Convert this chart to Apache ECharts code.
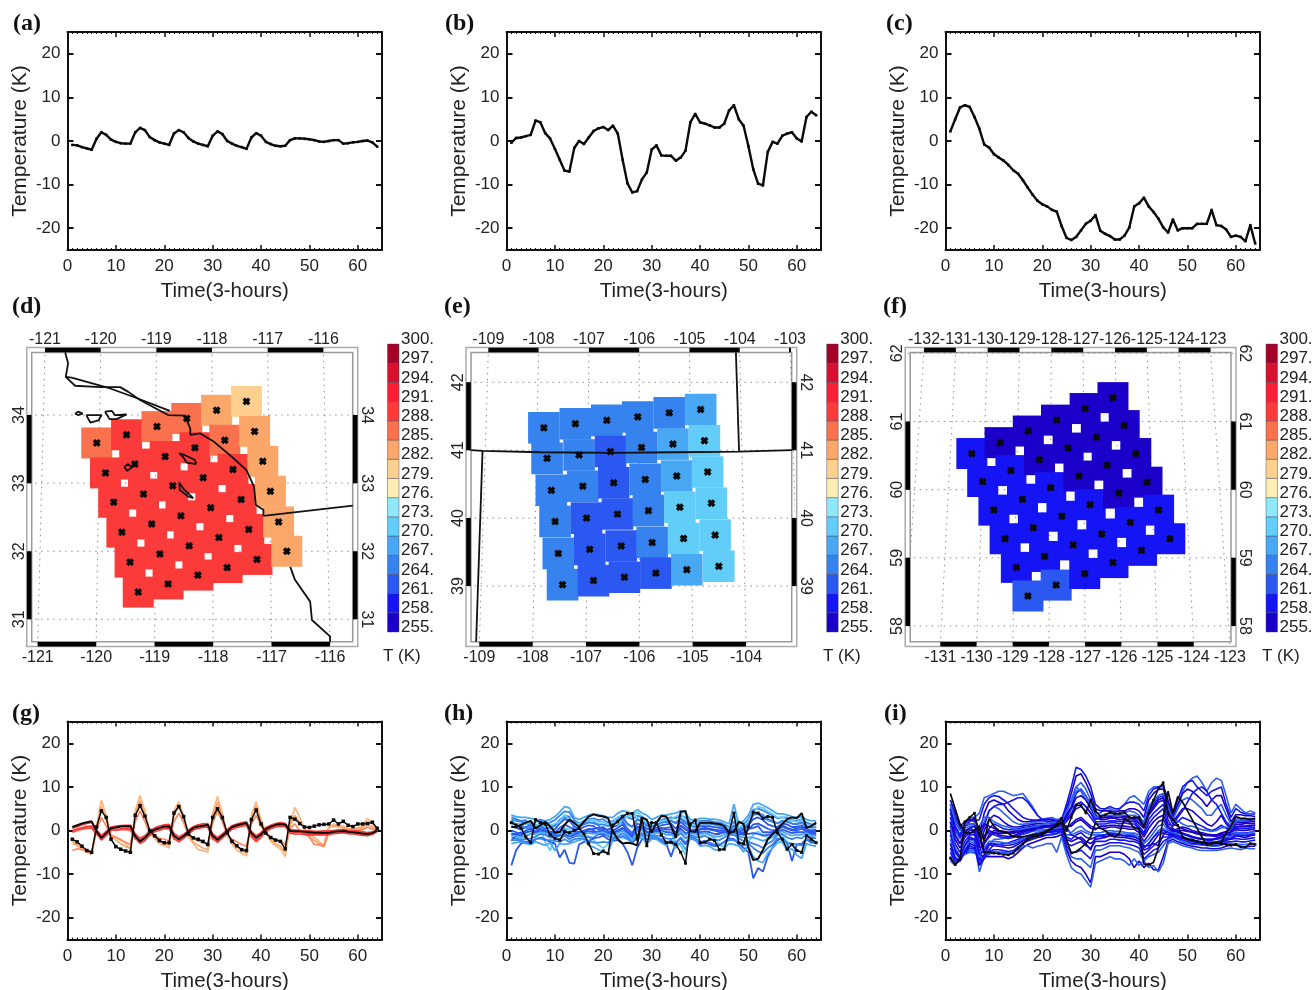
<!DOCTYPE html>
<html><head><meta charset="utf-8">
<script src="https://cdn.jsdelivr.net/npm/echarts@6/dist/echarts.min.js"></script>
<style>html,body{margin:0;padding:0;background:#fff}#c{width:1312px;height:990px}</style>
</head><body><div id="c"></div>
<script>
const lineA=[-0.9,-1,-1.4,-1.7,-2,0.5,2,1.4,0.3,-0.2,-0.5,-0.6,-0.6,2,3,2.5,0.9,0.2,-0.3,-0.6,-0.9,1.7,2.5,2,0.7,-0.1,-0.6,-0.9,-1.2,1.2,2.2,1.6,0,-0.6,-1.1,-1.4,-1.8,0.8,1.8,1.2,-0.2,-0.7,-1.1,-1.2,-1.1,0.2,0.6,0.6,0.5,0.4,0.2,-0.1,-0.2,0,0.2,0.2,-0.6,-0.5,-0.3,-0.2,0,0.1,-0.3,-1.3];
const lineB=[-0.4,0.7,0.8,1.1,1.4,4.7,4.3,1.8,0.6,-1.8,-4.3,-6.8,-7,-1.6,0,-0.7,0.8,2.3,2.9,3.2,2.5,3.5,1.7,-4.3,-9.7,-11.8,-11.5,-8.8,-7.2,-2,-1,-3.3,-3.4,-3.4,-4.5,-3.8,-2.2,4.3,6.2,4.3,4,3.6,3.1,3.1,4,7,8.2,5,3.5,-1.2,-6.5,-9.8,-10.2,-2.5,-0.2,-0.6,1.2,1.7,2,0.6,-0.1,5.5,6.7,5.9];
const lineC=[2.2,5,7.7,8.2,7.8,5.5,2.8,-0.8,-1.5,-3,-3.8,-4.5,-5.5,-6.7,-7.5,-9,-10.7,-12.3,-13.7,-14.5,-15,-15.8,-16.2,-19.5,-22.2,-22.7,-22,-20.5,-19,-18.3,-17,-20.6,-21.3,-21.8,-22.6,-22.6,-21.7,-19.8,-15,-14.3,-13,-15,-16.3,-17.8,-19.8,-21,-18,-20.5,-20,-20,-20,-19,-19,-19,-15.8,-19.3,-19.5,-20.3,-22,-21.7,-22,-23,-19.3,-23.5];

const gBlackA=[-2,-2.6,-3.6,-4.6,-5,0.8,4.5,3,-2,-3.7,-4.3,-4.7,-5,3.5,5.7,3.3,0,-1.2,-2.3,-2.8,-2.8,4,5.5,3.2,-0.8,-1.7,-2,-2.5,-3.2,3,5,3,-0.5,-2.5,-3.5,-4.4,-4.6,2.5,4.7,1.5,-0.6,-1.6,-2.2,-2.5,-4.2,3,2.6,1.6,0.8,0.7,1,1.3,1.4,1.5,2.4,1.5,2.1,1.2,0.9,1.5,1.5,1.6,1.9,0.5];
const gBlackB=[0.8,1.2,1.6,1.9,2.1,-0.2,-1.7,-0.6,0.5,0.7,0.9,1,1,-1.3,-2.5,-1.7,-0.5,0.2,0.6,0.9,1,-1.2,-2,-1.3,-0.3,0.6,0.9,1.1,1.3,-1.2,-2.1,-1.2,-0.2,0.8,1.2,1.5,1.7,-0.6,-1.7,-0.9,0.3,0.9,1.3,1.5,1.4,-0.1,-0.2,-0.2,-0.3,-0.4,-0.5,-0.5,-0.5,-0.5,-0.3,-0.2,-0.1,-0.3,-0.4,-0.5,-0.7,-0.8,-0.6,0];
const gOrange1=[-3,-3.5,-4.2,-5,-5.5,1,7,3.5,-1,-1.5,-2,-3,-4.5,4.5,8,4.5,-0.5,-1.8,-3,-3.5,-4,4.5,6.6,3.5,-1.5,-3,-4.4,-4.6,-5,4,7.8,4,-1,-3.2,-4.5,-5.2,-5.8,3.5,6.6,2.5,-0.5,-2.5,-3.5,-4.2,-6,1.5,5.3,3,0.5,-1,-1.6,-2.5,-3.5,0.5,1.5,1,1,0.5,0.3,0.6,1,2.8,1.5,0];
const gOrange2=[-2.5,-3.2,-3.9,-4.4,-5,0.5,5.5,2.5,-1.3,-2.2,-3,-3.7,-4,3.5,6.8,3.8,-0.3,-1.5,-2.6,-3,-3.4,3.5,5.7,2.6,-1.2,-2.6,-3.4,-4,-4.4,3,6.5,3.2,-0.8,-2.8,-3.8,-4.6,-5.2,2.8,5.6,2,-0.6,-2,-3,-3.6,-5,1,3.5,1.8,0.2,-1.5,-2.3,-3,-3.2,0.8,1,0.8,0.6,0.3,0.2,0.4,0.6,1.5,0.8,-0.1];
const gOrange3=[-4.6,-4.2,-4.4,-4.8,-5.2,0,3,1,-1.2,-1.6,-2.2,-2.7,-3.2,2,4.5,2,-0.8,-1,-1.8,-2,-2.4,2,4,1.8,-1,-1.8,-2.4,-2.8,-3.3,1.8,4.5,2,-1,-2,-2.6,-3.2,-3.6,1.5,3.5,1,-0.8,-1.6,-2,-2.4,-3.2,0.5,1.5,0,-0.8,-1.5,-3.2,-3.3,-3.7,-0.5,-0.3,0.2,0.2,0,-0.2,0,0.2,0.8,0.3,-0.2];
const gRed1=[0.5,0.9,1.3,1.6,1.8,0.2,-1.2,-0.2,0.8,1,1.1,1.2,1.2,-0.8,-1.8,-1.2,-0.1,0.6,1,1.3,1.4,-0.7,-1.5,-0.9,0.1,0.9,1.3,1.5,1.6,-0.8,-1.6,-0.8,0.2,1.1,1.5,1.8,2,-0.2,-1.2,-0.5,0.7,1.2,1.6,1.8,1.6,0.2,0.1,0,-0.1,-0.1,-0.2,-0.2,-0.1,-0.1,0,0.1,0.2,0,0,-0.1,-0.3,-0.5,-0.3,0];
const gRed2=[0,0.3,0.6,0.9,1,-0.6,-2.2,-1.2,0,0.2,0.4,0.5,0.5,-1.6,-3,-2.3,-1,-0.3,0.1,0.4,0.5,-1.7,-2.6,-1.8,-0.8,0.1,0.5,0.7,0.8,-1.7,-2.7,-1.7,-0.7,0.3,0.7,1,1.2,-1.1,-2.3,-1.4,-0.2,0.4,0.8,1,0.9,-0.6,-0.8,-0.8,-0.9,-1,-1,-1,-1,-0.9,-0.7,-0.6,-0.5,-0.7,-0.8,-0.9,-1.1,-1.2,-0.9,-0.2];
const gRed3=[-0.4,0,0.3,0.5,0.6,-0.9,-1.7,-0.8,0.2,0,0.2,0.2,0.1,-2,-2.2,-1.4,-1.2,0,0.4,0.7,0.8,-2,-2.3,-1.4,-0.5,0.4,0.8,1,1,-2,-2.3,-1.3,-0.4,0.5,1,1.2,1.4,-1.4,-2.6,-1.6,0,0.6,1,1.2,1.2,-0.3,-0.4,-0.4,-0.6,-0.6,-0.7,-0.6,-0.6,-0.6,-0.4,-0.3,-0.2,-0.4,-0.5,-0.6,-0.8,-0.9,-0.6,-0.1];

const hBlackA=[1.8,1.2,0.6,-1.5,-2.8,2.5,1.8,1.5,-1,-1.8,-2.2,-0.3,-0.5,0,0.5,-0.8,-3,-5.3,-5.4,-4.7,-5.3,1.2,2,3.2,3.9,3.9,-2,2.8,-3.5,1.8,1.8,-1,-2.8,-2.7,-3.2,-5,-7.5,1.5,2.4,-2.8,-2.7,-2,-2.3,-4.4,-4.3,-0.5,4,-2.8,-3,0.8,4.2,4,2.8,3.2,3,-0.5,-2,-4.3,-3.2,-4.6,-5,-1.2,-2,-2.8];
const hBlackB=[0.8,0.8,1.3,1.8,2.2,0.5,1.2,2,1,-0.5,-0.3,1.3,2.5,1.8,0.8,2,3.2,3.7,3.4,3.2,2.8,-0.2,-2,-3,-2.8,-3,-3.4,3,2.5,-0.5,1.8,3.3,3.2,1.2,-1.7,4.3,4.5,-0.2,-0.3,1.8,1.8,1.8,1.6,1.5,1,-0.5,-0.3,2,1.5,-4,-6.8,-6.5,-4.5,-2,-0.8,0.2,1.5,2.6,3,2.8,4,0.6,1,1.8];
const h1=[3.5,3.2,3,3,2.8,2.5,2.5,2.2,2.5,3.2,4.2,5.5,5.2,3,2.5,3,3.5,3.8,3.6,3.4,3,3,4,4.5,4.3,3.8,4.8,4,3.5,2.5,3,3.5,3.5,3.8,4,4.5,4,2.5,2.2,2.8,2.8,2.6,2.6,2.4,2,1.5,6,1.5,2.2,3.5,6,6.3,5.8,5.2,4.5,3.8,3.8,3.6,3.2,3,3.2,2.5,2.2,2.2];
const h2=[2.5,2.2,2,1.8,1.5,2,2.4,1.5,1.8,2.4,3.4,4.4,4.2,2.4,1.6,2.2,2.6,2.8,2.4,2.6,1.8,2.2,3,3.4,3,2.6,3.4,3,2,1.6,2,2.4,2.8,3,2.8,3.4,3,1.8,1.6,2.2,2.2,2.2,2,1.8,1.4,0.8,2,0.6,1.4,2.6,4.8,5,4.6,4,3.4,2.8,3,3,2.4,2.2,2.6,1.8,1.4,1.4];
const h3=[1,0.6,0.2,0.8,1.2,0.4,1,0.4,0.6,0.2,1.6,2.6,2.2,1,0.2,0.8,1.2,1,0.2,0.4,0.2,0.8,1.2,2,0.4,-0.6,1.6,1.2,0.4,0.2,0.6,1.2,1.4,1.6,0.4,2,1,0.2,0.2,1,1,1,0.8,0.6,0.4,-0.2,0.6,-0.4,0.2,1.2,2.6,3,2.4,1.4,1,0.8,1.6,1.4,0.8,0.8,1.2,0.4,0,0.2];
const h4=[-0.5,-1,-1.4,-0.6,0,-0.8,0.2,-2.6,-4.6,-2,-0.6,0.6,0.2,-0.4,-1,-0.8,-1.4,-2.2,-3.4,-4,-3.2,-0.6,0.6,2.8,3.2,4,3,1.4,-1,-1.4,-0.4,0.2,-0.4,-0.6,-2.6,-3.4,-5.6,0.4,-0.8,-1.4,-0.6,-1,-1.8,-3.4,-3.6,-1.4,0.8,-3.4,-5,-2.6,-1,-0.2,-1,-1.6,-1,-0.4,-1.2,-2.6,-3.2,-4.4,-5.2,-1.8,-2.4,-3];
const h5=[-1.6,-1.8,-2.2,-2,-1.8,-1.4,-0.8,-1,-1.6,-1.6,-2,-1.2,-2,-1.4,-1.2,-1.4,-1.6,-1.6,-0.8,-0.4,-1.4,-1.6,-1.2,-0.6,-1.4,-3,-1,-0.6,-1.2,-1.2,-1.2,-1.2,-1.8,-2,-1.6,-0.6,-1.8,-1,-1.4,-1.6,-1.2,-1.8,-2.2,-2.2,-1.6,-1,-1,-1.8,-2.4,-2.6,-3,-3.4,-4,-3,-2.4,-1,-0.8,-1.6,-2,-1.6,-1.8,-1,-1.6,-1.8];
const h6=[-8,-4.5,-3,-2.6,-3,-2,-1.6,-2,-2.6,-3,-6.2,-4.4,-7.4,-7.6,-3.2,-2.6,-2.4,-1.8,-1.6,-1.2,-2,-2.4,-2.2,-3,-5,-8,-4,-2,-2,-2,-1.8,-2.4,-3,-6,-2.8,-1.8,-3.2,-1.8,-2.2,-3.2,-2.6,-3.2,-3.6,-3.4,-2.6,-1.8,-2,-3,-4,-5,-11,-8.6,-9.4,-6,-3.8,-2.2,-1.8,-3,-7,-3.2,-3,-2,-2.8,-2.8];
const h7=[-3,-2.8,-2.6,-3,-3.2,-2.6,-3,-3.4,-2.8,-4.6,-3,-3.2,-3,-2.6,-2.2,-2,-3.4,-3.8,-4.4,-5,-5.2,-2,-1.6,-1.6,-2,-2.6,-2,-1.6,-3,-2,-2,-2.8,-3.4,-2.6,-4,-2.6,-4.4,-1.8,-2,-3.6,-3.4,-3.6,-4.4,-4.6,-4,-3,-3.2,-3.6,-4.8,-3.6,-6,-7,-7.4,-5.2,-4,-2.8,-2.6,-4.6,-4.2,-5.6,-6.4,-3,-3.4,-3.6];
const h8=[3,2.6,2.2,2.4,0.4,-0.6,1.2,0.8,0.4,1.2,2.4,3.4,3.2,0.4,0.8,1.6,2,1.6,1.2,-0.6,-1.2,1.2,2.6,3.2,1.6,0.8,2.4,2.2,1,0.8,1.2,1.8,2,2.2,1.8,2.8,2,1,0.8,1.6,1.6,1.6,1.4,1.2,0.8,0.2,1.2,0.2,0.8,1.8,3.6,4,3.6,2.6,2.2,1.6,2.2,2.2,1.6,1.4,2,1,0.6,0.8];
const h9=[-2.4,-1,-0.4,-1.2,-0.8,-0.2,-0.2,0,-0.4,-0.6,-0.4,0.2,-0.8,-0.6,-0.6,-0.4,-0.2,-0.4,-0.2,0,-0.6,-0.6,-0.2,0.2,-0.6,-1.4,0,0.2,-0.4,-0.4,-0.2,0,-0.4,-0.4,-1.2,0.4,-0.6,-0.4,-0.4,-0.4,-0.2,-0.4,-0.8,-0.8,-0.4,-0.4,-0.2,-0.8,-1,-0.8,-0.6,-0.8,-1.2,-1,-0.8,-0.2,0.2,-0.2,-0.6,-0.4,-0.4,-0.4,-0.8,-0.8];
const h10=[2,1.5,1.2,0.6,0.4,1,1.8,1,1.2,1,2.4,3,2.8,1.6,0.8,1.4,1.8,1.8,1.4,1.4,1,1.6,2.2,2.6,1.4,0.8,2.6,2.2,1.2,1,1.4,1.8,2,2.2,1.6,2.6,1.6,1,1,1.6,1.6,1.6,1.4,1,0.8,0.2,1,0,0.8,1.6,3.6,3.8,3,2.4,2,1.6,2.2,2,1.6,1.4,1.8,1,0.8,0.8];
const h11=[0,-0.4,-0.8,0,0.4,-0.4,0.4,-0.4,-0.2,-0.6,0.6,1.4,0.8,0.2,-0.4,0,0.4,0,-0.8,-1,-0.8,0,0.6,1.4,-0.4,-1.6,0.6,0.6,-0.2,-0.4,0,0.4,0.6,0.8,-0.4,1,0.2,-0.4,-0.4,0.2,0.4,0.2,0,-0.4,-0.4,-0.8,-0.4,-1,-0.6,0.2,1.4,1.6,1,0.4,0,0.2,0.8,0.4,0,0,0.4,-0.2,-0.6,-0.4];
const h12=[-1,-1.4,-1.8,-1.2,-0.8,-0.8,-0.4,-0.6,-1,-1,-0.8,-0.2,-1,-0.8,-0.8,-0.6,-0.6,-0.8,-0.6,-0.4,-1,-1,-0.6,0,-1,-2.2,0,0,-0.8,-0.8,-0.6,-0.4,-1,-1,-1,-0.2,-1,-0.6,-0.8,-0.8,-0.6,-1,-1.4,-1.4,-1,-0.6,-0.6,-1.4,-1.6,-1.6,-1.6,-2,-2.4,-2,-1.6,-0.6,-0.2,-0.8,-1.2,-1,-1,-0.6,-1.2,-1.2];
const h13=[-2.2,-2.2,-2.4,-2.6,-2.4,-2,-1.8,-2.2,-2.2,-2.4,-2.6,-2,-2.6,-2,-1.8,-1.8,-2.4,-2.8,-2.8,-2.6,-2.8,-2,-1.6,-1.2,-1.8,-2.8,-1.6,-1,-2,-1.6,-1.6,-2,-2.6,-2.4,-2.8,-1.6,-2.8,-1.4,-1.8,-2.6,-2.4,-2.8,-3.2,-3.2,-2.8,-2.2,-2.2,-2.8,-3.4,-3,-4,-4.8,-5.2,-4,-3.2,-1.8,-1.8,-3,-3,-3.2,-3.4,-2,-2.4,-2.6];
const h14=[1.6,1.2,1.6,1.4,2,1.2,1.6,0.8,1,1.6,2,3.6,2.6,2,1.4,2,2.4,2.2,2,2,1.4,2,3,3.6,3.6,3.2,4.2,3.2,1.6,1.2,1.6,2.2,2.4,2.6,3.2,3.8,2.6,1.4,1.2,2,2,1.8,1.6,1.4,1,0.4,4,0.8,1,2.2,4.2,5.4,5.2,4.4,3.8,3,3,2.6,2.2,2,2.4,1.4,1,1];
const h15=[-0.8,-0.8,-1.2,-0.4,-0.2,-0.2,0.4,0,-0.6,-1.2,-1.2,-0.8,-1.4,-1,-0.4,-0.2,0.2,0.4,0.6,0.8,-0.2,-0.4,0,0.6,-0.2,-1,0.8,0.8,-0.4,-0.2,0.2,0.6,0.2,0.2,-0.6,1.2,0.4,0,0,0.4,0.6,0.4,0.2,0,0,-0.2,0.2,-0.6,-0.4,0.4,0.6,1,-0.4,-0.4,-0.4,0.4,1.2,0.6,0.2,0.4,0.8,0,-0.2,-0.2];

const iBlackA=[-6.3,-7.8,-6.5,2,3,4,-1,-5,-5,-5.2,-5.3,-5.5,-5.6,-5.2,-4,-3,-2,-1.5,-1.3,-1,-0.3,0.5,1.5,2.8,0,3,5.8,5.8,4,7,4.5,3.2,3.5,4.2,3.8,3.9,4.2,3,3,3,1,4,7,9.5,11,4,2.5,1.2,-1.5,-2,-2.2,-2.5,-2.8,-3,-3,-2.8,-3,-3.2,-3.4,-3.2,-3.8,-3.8,-3,-3.2];
const iBlackB=[8.5,5,1.5,-0.5,-0.7,0,1,-2.5,2.7,1,0,-0.3,-0.7,-1.3,-1.5,-1.4,-1.2,-1,-0.8,-0.5,0,0.5,1,2,-2,-5.3,-4.8,-4,-3,-1.5,1.8,0.5,0,-1,-1.5,-0.5,2.8,2,0.5,0.5,-7.7,-7.9,-7.3,-4,3,9,4,7.8,6.5,4.5,2.5,0.5,-1.5,-3.5,-2.8,-2.8,-2.8,-0.5,1,3.2,2.8,2.8,2.5,2.8];
const i1=[5,2,0,2,3,3,4,7.5,8,8.5,9,9,8.5,8,8.2,8.5,7,5.5,3.5,2.5,2.8,3,2.5,2.8,5,7,10,9,7,5.5,4,4,5,5,4.5,5,6,7.5,8,7,6,9,10,10,10,6,3,5,9,11,12,12.5,11,9,11,12,11.5,8,4,6,5,4,4.5,4];
const i2=[4,1,-1,1.5,2.5,2,2.5,6,7.5,8,7.8,7,6.2,5,4,3,2.6,2.4,2.4,2.6,2.6,2.6,2.2,2.4,6,10,14.5,14,12.5,10,6,5,5,5.5,5,5,6,6.5,6.5,6,4.5,8,9.5,10,10.5,7,3.5,7,10,11,11.5,10,9,8,9,9.5,10,6,3,5,4.2,3.8,3.8,3.8];
const i3=[6,3,0.5,1,2,3,-1,4,6.5,7,6.5,6,4.5,3.5,2.5,2,2,2.2,2.2,2.4,2.4,2.4,2,2.2,5,8.5,12.5,13,11,8.5,5,4.5,4.5,4.5,4.2,4.5,4.5,5,5,4.5,3,7,8.5,9.5,9.5,6.5,3,6,8.5,9.5,9,8,7,5.5,7,8,8,5,2,3.6,3.6,3.4,3.4,3.2];
const i4=[3,0,-2,0.5,1,1,-2,2,4.5,5.5,5,4,3,2,1.5,1.4,1.6,1.8,2,2,2,2,1.8,1.8,4,7,10,11,9.5,7,4,3.5,3.5,3.5,3.5,3.5,3.5,3.5,3.5,3,2,5.5,7,8,8.5,5,2.5,5,7,7.5,7,6,5,3.5,3.5,5,6,3.5,1.5,3,2.6,2.6,2.8,2.6];
const i5=[5,-1,-3,-1,0,0,-3.5,0,2.5,3.5,3,2,1.2,0.8,0.8,1,1.2,1.4,1.6,1.6,1.6,1.6,1.4,1.4,3,5,7.5,8,7,5,3,2.5,2.5,2.8,2.8,2.4,2.8,2.4,2.4,1.6,0.5,3.5,5,6.5,7,3.5,2,3.5,5,5,4.5,3.5,2.5,1.5,1,2,3.5,1.5,0.5,2,1.8,1.8,2,2];
const i6=[2,-3,-5,-2.5,-1,-1,-5,-2,0.5,1.5,1,0.4,0.2,0.2,0.4,0.6,0.8,1,1.2,1.2,1.2,1.2,1,1,2,3.5,5,5.5,4.5,3,1.5,1.5,1.5,1.8,1.8,1.5,1.8,1.5,1.5,0.5,-1,1.5,3,4,5,1.5,1,2,3,2.5,2,1.5,1,0.4,0,0.4,1.2,0.5,0,1,0.8,0.8,1,1.2];
const i7=[0,-5,-6.5,-3.5,-1.5,-2,-7,-3,-1.5,-0.5,-0.6,-0.6,-0.6,-0.5,-0.3,0,0.2,0.5,0.7,0.8,0.8,0.8,0.8,0.6,0.5,1.5,2.5,3,2,1,0.5,0.5,0.5,0.8,0.8,0.5,0.5,0.3,0.3,-0.5,-2.5,-1,0.5,2,2.5,0.5,0,0.4,0.8,0.5,0,-0.3,-0.5,-0.8,-1,-1,-0.5,-0.3,-0.5,0.2,0,0,0.2,0.4];
const i8=[-2,-6,-7,-4.5,-2.5,-3,-9.5,-6,-3.5,-2,-2,-1.8,-1.6,-1.2,-1,-0.8,-0.6,-0.2,0,0.2,0.2,0.2,0.2,0.2,-1,-1,-0.5,0,-0.5,-1,-1,-1,-1,-0.6,-0.6,-0.8,-0.8,-1,-1,-1.5,-4,-3,-1.5,0,0.5,-0.5,-0.5,-0.6,-0.8,-1,-1.4,-1.6,-1.8,-2,-2,-2,-1.8,-1.2,-1.2,-0.8,-1,-1,-0.8,-0.6];
const i9=[-5,-7.5,-7,-5,-3.5,-4,-8,-6.5,-4.5,-3.2,-3.2,-3,-2.8,-2.4,-2,-1.6,-1.4,-1,-0.8,-0.6,-0.4,-0.4,-0.2,0,-3,-3.5,-3,-2.5,-3.5,-4,-2.5,-2.5,-2.5,-2,-2,-2.2,-2.2,-2.5,-2.5,-3,-5.5,-4.5,-3.5,-2.5,-1.5,-1.5,-1,-1.4,-1.8,-2,-2.4,-2.4,-2.6,-2.8,-2.8,-2.8,-2.6,-2,-2,-1.8,-2,-2,-1.8,-1.6];
const i10=[-6,-7.8,-6.5,-5,-4.5,-4.5,-6,-6,-5.5,-5,-5,-5,-5,-5,-4,-3,-2.2,-1.8,-1.5,-1.2,-1,-1,-0.8,-0.5,-4,-6,-6.5,-6.5,-7.5,-8.5,-4.5,-4.5,-4,-3.5,-3.5,-3.5,-3.8,-4,-4.5,-5,-7,-6,-5.5,-5,-3.5,-2,-1.5,-2,-2.6,-3,-3.2,-3.2,-3.4,-3.4,-3.6,-3.6,-3.4,-3,-3,-3,-3.2,-3.2,-3,-3];
const i11=[-6.5,-8,-6.5,-5,-5,-5,-5.5,-6,-6,-6,-6,-6,-6.5,-6,-5,-4,-3.2,-2.8,-2.4,-2,-1.6,-1.6,-1.4,-1,-4.5,-7,-8,-8.5,-10,-12,-6,-6,-5.5,-5,-5,-5,-5.5,-6.5,-8.5,-7,-8.5,-7.5,-9,-9,-6,-2.5,-2,-2.6,-3,-3.4,-3.6,-3.8,-4,-4,-4.2,-4.2,-4,-3.6,-3.4,-3.4,-3.6,-3.8,-3.6,-3.6];
const i12=[-7,-8,-6,-5.5,-5,-5.2,-5,-5,-5,-4.8,-5,-5,-5.5,-5,-4.5,-3.5,-3.5,-4,-3.6,-3.4,-3,-3,-5,-1.5,-5.5,-8.5,-9.5,-10,-11.5,-13,-7.5,-7,-6.5,-6,-6.5,-6.5,-7,-8,-6.5,-8,-7,-8.5,-8,-9.5,-7.5,-3,-2.5,-3,-3.5,-3.8,-4,-4.4,-4.6,-4.6,-4.6,-4.6,-4.4,-4.2,-4,-4.2,-4.4,-4,-4.2,-4.2];
const i13=[3,0.5,-1,1,1.5,1.5,-1.5,1,4.5,5.5,6,6,6.5,7,7.5,7.5,6.5,5,3.5,2.5,2,2,1.6,1.6,3.5,5,6,6.5,5.5,4,2.5,3,3,3.2,3,3,3.2,3,2.5,2,1,4.5,6,7.5,8,4,1.5,3,4.5,6.5,8.5,9.5,10,9,7,6,4,2,1,2.4,2.2,2.2,2.4,2.4];
const i14=[1,-2,-4,-1.5,-0.5,-0.5,-4,-3,-1,0,-0.2,-0.4,-0.4,-0.2,0,0.2,0.4,0.6,0.9,1,1,1,0.9,0.8,0.8,-1,-1.5,-2,-3,-4.5,-1.5,-1.2,-1.5,-1,-1,-1,-1.2,-1.2,-1.4,-2,-3.5,-3.5,-3,-3.5,-1,0,-0.2,0,0,-0.2,-0.4,-0.6,-0.8,-1,-1.2,-1.4,-1,-0.8,-1,-0.4,-0.6,-0.6,-0.4,0];
const i15=[7,4,1,2,2.5,2.5,0,1.5,1,0.5,0,-0.2,-0.4,-0.6,-0.4,-0.2,0,0.4,0.6,0.8,1,1.2,1.4,1.8,3.5,5.5,8.5,9.5,8,6,3.5,2.8,3,3,3,3,3.2,3,2.8,2.5,1,4,5.5,7,7.5,4.5,1.5,1,0.4,0,-0.4,-0.8,-1,-1.2,-1.2,-1,-0.8,-0.2,0.5,1.5,1.4,1.6,1.6,1.6];
const i16=[5,1,-1.5,0,0.5,0,-2.5,-1,-0.5,-1,-1.4,-1.6,-1.8,-1.6,-1.2,-0.8,-0.4,0,0.4,0.6,0.8,1,1.2,1.4,2.5,4,6,6.5,5.5,4,2,2,2,2.2,2.2,2,2.2,2,2,1,-0.5,2.5,4,5,6,2.5,0.5,-0.2,-0.6,-1,-1.4,-1.8,-2,-2.2,-2.2,-2,-1.6,-1,-0.5,0.6,0.4,0.4,0.6,0.8];
const i17=[1,-4,-6,-3,-2,-2.5,-6,-4,-2.5,-2.5,-2.6,-2.8,-3,-2.8,-2.4,-1.8,-1.2,-0.8,-0.4,-0.2,0.2,0.4,0.6,0.8,0,-0.5,0.5,1,0,-0.5,-0.5,-0.5,-0.2,0,-0.2,-0.2,-0.4,-0.6,-0.6,-1,-3,-2,-0.5,1,1.5,0,-0.6,-1,-1.4,-1.8,-2,-2.4,-2.6,-2.6,-2.6,-2.6,-2.2,-1.6,-1.4,-0.4,-0.6,-0.8,-0.4,-0.2];
const i18=[-3,-6.5,-6.8,-4.8,-3,-3.5,-8,-5.5,-3.2,-3.5,-3.6,-3.8,-4,-3.8,-3.2,-2.4,-1.8,-1.4,-1,-0.8,-0.4,-0.2,0.2,0.4,-2,-2.5,-2,-1.5,-2.5,-3,-2,-1.8,-1.6,-1.2,-1.4,-1.6,-1.6,-1.8,-2,-2.5,-4.5,-4,-2.5,-1,-0.5,-1,-1,-1.4,-1.8,-2.2,-2.6,-2.8,-3,-3,-3,-3,-2.8,-2.2,-2,-1.2,-1.4,-1.6,-1.2,-1];
const i19=[-4,-7,-6.8,-5,-4,-4.2,-7,-6,-4.8,-4.4,-4.4,-4.6,-4.8,-4.6,-3.8,-3,-2.4,-2,-1.6,-1.4,-1,-0.8,-0.6,-0.2,-3.5,-5,-5,-4.5,-5.5,-6.5,-3.5,-3.5,-3.2,-2.8,-2.8,-2.8,-3,-3.2,-3.5,-4,-6.5,-5.5,-4.5,-4,-2.5,-1.8,-1.2,-1.8,-2.2,-2.6,-3,-3,-3.2,-3.2,-3.4,-3.4,-3.2,-2.6,-2.6,-2.4,-2.6,-2.6,-2.4,-2.2];
const i20=[2,-1,-3,-0.5,0.5,1,-1.5,-1.5,0,-0.5,-1,-1.2,-1.4,-1.2,-0.8,-0.4,0,0.2,0.6,0.8,1,1.2,1.4,1.6,1,1,2,2.5,1.5,0.5,0.2,1,1,1.2,1.2,1,1,0.8,0.8,0.2,-1.5,0.5,2,3,3.5,1,0.2,-0.4,-0.8,-1.2,-1.6,-1.8,-2,-2,-2,-1.8,-1.4,-0.8,-0.2,0.8,1,1,1.2,1.2];
const i21=[6,2.5,0,1.5,1.5,1.5,1,3,3,2,1.5,1,0.8,0.4,0.2,0.4,0.6,0.8,1,1.4,1.6,1.8,1.8,2,4.5,6.5,9,9.5,8,6,3,3.2,3.8,4,3.8,3.6,4,4.5,4.2,3.5,1.5,5,6.5,8,8.5,5.5,2,2.2,1.5,1,1,0.6,0.2,0,-0.2,0,0.6,0.8,0.6,2.2,2.2,2.4,2.6,2.8];
const i22=[-1,-4.5,-6,-3.5,-2,-2,-5.5,-4.5,-3,-3,-3.2,-3.4,-3.4,-3.2,-2.8,-2.2,-1.6,-1.2,-0.8,-0.6,-0.2,0,0.2,0.2,-1.5,-2,-1,-0.5,-1.5,-2,-1.5,-1.2,-1,-0.6,-0.8,-1.2,-1.2,-1.4,-1.4,-2,-4,-3,-1.5,-0.5,0,-0.5,-0.8,-1.2,-1.6,-2,-2.2,-2.6,-2.8,-2.8,-2.8,-2.8,-2.4,-1.8,-1.8,-1,-1.2,-1.2,-1,-0.8];

const dLon=[-119.99,-119.48,-118.96,-118.45,-117.94,-117.43,-119.84,-119.34,-118.82,-118.31,-117.80,-117.29,-119.70,-119.19,-118.69,-118.17,-117.66,-117.15,-119.56,-119.05,-118.55,-118.04,-117.52,-117.02,-119.42,-118.91,-118.41,-117.90,-117.39,-116.88,-119.28,-118.77,-118.26,-117.76,-117.25,-116.74];
const dLat=[33.59,33.71,33.83,33.95,34.07,34.20,33.15,33.28,33.39,33.52,33.63,33.76,32.72,32.84,32.96,33.08,33.20,33.32,32.28,32.40,32.52,32.64,32.76,32.88,31.84,31.96,32.08,32.20,32.32,32.43,31.40,31.52,31.65,31.76,31.88,32.00];
const dTemp=[286.5,289.5,286.5,286.5,283.5,280.5,289.5,289.5,289.5,289.5,286.5,283.5,289.5,289.5,289.5,289.5,289.5,283.5,289.5,289.5,289.5,289.5,289.5,283.5,289.5,289.5,289.5,289.5,289.5,283.5,289.5,289.5,289.5,289.5,289.5,283.5];
const eLon=[-107.79,-107.20,-106.61,-106.03,-105.44,-104.85,-107.73,-107.13,-106.54,-105.96,-105.37,-104.78,-107.65,-107.06,-106.48,-105.89,-105.30,-104.72,-107.58,-106.99,-106.41,-105.83,-105.24,-104.65,-107.52,-106.93,-106.34,-105.76,-105.17,-104.58,-107.44,-106.86,-106.28,-105.69,-105.11,-104.51];
const eLat=[41.33,41.39,41.44,41.49,41.55,41.60,40.88,40.93,40.98,41.04,41.09,41.14,40.41,40.47,40.52,40.57,40.62,40.68,39.95,40.00,40.06,40.11,40.16,40.22,39.48,39.54,39.59,39.64,39.70,39.75,39.02,39.08,39.13,39.19,39.24,39.29];
const eTemp=[265.5,265.5,265.5,265.5,265.5,268.5,265.5,265.5,262.5,265.5,268.5,271.5,265.5,265.5,262.5,265.5,268.5,271.5,265.5,262.5,262.5,265.5,271.5,271.5,265.5,262.5,262.5,265.5,271.5,271.5,265.5,262.5,262.5,262.5,268.5,271.5];
const fLon=[-130.13,-129.35,-128.57,-127.79,-127.00,-126.23,-129.83,-129.05,-128.26,-127.47,-126.69,-125.92,-129.52,-128.73,-127.95,-127.17,-126.39,-125.60,-129.21,-128.43,-127.64,-126.86,-126.07,-125.29,-128.90,-128.12,-127.33,-126.54,-125.75,-124.97,-128.58,-127.80,-127.01,-126.23,-125.44,-124.66];
const fLat=[60.53,60.69,60.86,61.02,61.19,61.35,60.12,60.28,60.44,60.61,60.77,60.94,59.70,59.86,60.03,60.20,60.36,60.53,59.28,59.44,59.61,59.78,59.95,60.11,58.86,59.02,59.19,59.35,59.52,59.70,58.44,58.60,58.77,58.93,59.11,59.28];
const fTemp=[259.5,256.5,256.5,256.5,256.5,256.5,259.5,259.5,256.5,256.5,256.5,256.5,259.5,259.5,259.5,256.5,256.5,256.5,259.5,259.5,259.5,259.5,256.5,256.5,259.5,259.5,259.5,259.5,259.5,259.5,262.5,262.5,259.5,259.5,259.5,259.5];

const dCoasts=[
 [[-120.53,34.92],[-120.48,34.76],[-120.52,34.56],[-120.42,34.55],[-119.76,34.39],[-119.31,34.25],[-118.74,34.06]],
 [[-120.52,34.56],[-120.36,34.43],[-119.93,34.41],[-119.59,34.41],[-119.45,34.34],[-119.25,34.22],[-118.77,34.00],[-118.48,33.99],[-118.39,33.80],[-118.39,33.71],[-118.22,33.73],[-117.99,33.61],[-117.71,33.41],[-117.43,33.19],[-117.30,32.95],[-117.27,32.68],[-117.14,32.61],[-117.14,32.52]],
 [[-117.14,32.52],[-115.61,32.67]],
 [[-116.68,31.77],[-116.60,31.58],[-116.34,31.26],[-116.31,30.99],[-116.00,30.75],[-116.00,30.67]],
 [[-120.36,34.02],[-120.31,34.05],[-120.23,34.02],[-120.31,34.00],[-120.36,34.02]],
 [[-120.17,34.00],[-120.05,34.00],[-119.91,34.00],[-119.96,33.92],[-120.10,33.89],[-120.15,33.97],[-120.17,34.00]],
 [[-119.85,34.05],[-119.73,34.06],[-119.68,34.00],[-119.48,34.01],[-119.65,33.94],[-119.77,33.94],[-119.85,34.05]],
 [[-119.52,33.24],[-119.45,33.28],[-119.39,33.23],[-119.47,33.18],[-119.52,33.24]],
 [[-118.58,33.44],[-118.48,33.41],[-118.31,33.34],[-118.29,33.28],[-118.45,33.30],[-118.51,33.38],[-118.58,33.44]],
 [[-118.58,33.01],[-118.51,32.92],[-118.34,32.78],[-118.42,32.80],[-118.57,32.90],[-118.58,33.01]]
];
const eBorders=[
 [[-104.19,42.44],[-104.13,40.98]],
 [[-109.16,41.00],[-108.94,40.99],[-107.86,40.97],[-106.49,40.96],[-105.36,40.97],[-104.13,40.98],[-103.14,41.00]],
 [[-108.94,40.99],[-109.06,38.18]]
];

const cbLevels=[255,258,261,264,267,270,273,276,279,282,285,288,291,294,297];
const cbColors=['#1a00c8','#1414f5','#2a58f0','#3683f0','#48a8f4','#62cdf9','#8fe8fb','#fdeeb5','#fdd08f','#fba76a','#fa724d','#fb3a3a','#fa1f36','#d7102e','#a50026'];
const timeTicks=[0,10,20,30,40,50,60];
const tempTicks=[-20,-10,0,10,20];
const panelLetters=['(a)','(b)','(c)','(d)','(e)','(f)','(g)','(h)','(i)'];
const xLabel='Time(3-hours)', yLabel='Temperature (K)', cbLabel='T (K)';

const font='"Liberation Sans",Arial,sans-serif';
const ink='#222';
const grid=[],xAxis=[],yAxis=[],series=[],graphic=[];
const colorOf=t=>cbColors[Math.min(14,Math.max(0,Math.floor((t-255)/3)))];
const xy=arr=>arr.map((v,i)=>[i+1,v]);

function lineGrid(left,top){
  const g=grid.length,W=314.5,H=218;
  grid.push({left,top,width:W,height:H,show:false,outerBoundsMode:'none'});
  const ax=(pos,labels)=>({gridIndex:g,type:'value',position:pos,min:0,max:65,interval:10,
    axisLine:{show:true,onZero:false,lineStyle:{color:'#111',width:2}},
    axisTick:{show:true,inside:true,length:5,customValues:timeTicks,lineStyle:{color:'#111',width:1.5}},
    minorTick:{show:true,splitNumber:10,length:2,lineStyle:{color:'#111',width:1}},
    splitLine:{show:false},minorSplitLine:{show:false},
    axisLabel:{show:labels,fontSize:17,fontFamily:font,color:ink,margin:8,customValues:timeTicks},
    name:labels?xLabel:'',nameLocation:'middle',nameGap:31,nameTextStyle:{fontSize:20.5,fontFamily:font,color:ink}});
  const ay=(pos,labels)=>({gridIndex:g,type:'value',position:pos,min:-25,max:25,
    axisLine:{show:true,onZero:false,lineStyle:{color:'#111',width:2}},
    axisTick:{show:true,inside:true,length:6,customValues:tempTicks,lineStyle:{color:'#111',width:2}},
    splitLine:{show:false},
    axisLabel:{show:labels,fontSize:17,fontFamily:font,color:ink,margin:7,customValues:tempTicks},
    name:labels?yLabel:'',nameLocation:'middle',nameGap:37,nameRotate:90,nameTextStyle:{fontSize:21,fontFamily:font,color:ink}});
  const xi=xAxis.length; xAxis.push(ax('bottom',true),ax('top',false));
  const yi=yAxis.length; yAxis.push(ay('left',true),ay('right',false));
  return {xi,yi};
}
function addLine(a,vals,color,width,marker,z){
  series.push({type:'line',xAxisIndex:a.xi,yAxisIndex:a.yi,data:xy(vals),z:z||2,
    lineStyle:{color,width},itemStyle:{color},
    showSymbol:!!marker,symbol:'rect',symbolSize:marker||0,silent:true,animation:false});
}
const blk='#0a0a0a';
[[67.5,32,lineA],[506.5,32,lineB],[945.5,32,lineC]].forEach(([l,t,v])=>{
  addLine(lineGrid(l,t),v,blk,2.4,2.5,3);
});
const ag=lineGrid(67.5,721.5);
[[gOrange1,'#fbb684'],[gOrange2,'#fba76a'],[gOrange3,'#fb8a62'],[gRed1,'#fb3a3a'],[gRed2,'#fa3030'],[gRed3,'#fa4a40']].forEach(([v,c])=>addLine(ag,v,c,1.7));
addLine(ag,gBlackB,blk,2,0,4); addLine(ag,gBlackA,blk,1.5,3.5,4);
const ah=lineGrid(506.5,721.5);
[[h1,'#48a8f4'],[h2,'#3683f0'],[h3,'#2a58f0'],[h4,'#62cdf9'],[h5,'#3683f0'],[h6,'#2a58f0'],[h7,'#48a8f4'],[h8,'#3683f0'],[h9,'#2a58f0'],[h10,'#3683f0'],[h11,'#2a58f0'],[h12,'#48a8f4'],[h13,'#3683f0'],[h14,'#62cdf9'],[h15,'#2a58f0']].forEach(([v,c])=>addLine(ah,v,c,1.8));
addLine(ah,hBlackB,blk,2,0,4); addLine(ah,hBlackA,blk,1.5,3,4);
const ai=lineGrid(945.5,721.5);
[[i1,'#2b60f0'],[i2,'#1414f5'],[i3,'#1a00c8'],[i4,'#2b60f0'],[i5,'#1a00c8'],[i6,'#1414f5'],[i7,'#1a00c8'],[i8,'#2b60f0'],[i9,'#1414f5'],[i10,'#2b60f0'],[i11,'#1a00c8'],[i12,'#2b60f0'],[i13,'#1414f5'],[i14,'#1a00c8'],[i15,'#1a00c8'],[i16,'#1414f5'],[i17,'#2b60f0'],[i18,'#1a00c8'],[i19,'#1414f5'],[i20,'#1a00c8'],[i21,'#2b60f0'],[i22,'#1414f5']].forEach(([v,c])=>addLine(ai,v,c,1.6));
addLine(ai,iBlackB,blk,1.7,0,4); addLine(ai,iBlackA,blk,1.5,2.5,4);

const crossPath='path://M0,3 L3,0 L5,2 L7,0 L10,3 L8,5 L10,7 L7,10 L5,8 L3,10 L0,7 L2,5 Z';
function mapPanel(s){
  const g=grid.length;
  grid.push({left:s.left,top:350,width:s.width,height:294.2,show:false,outerBoundsMode:'none'});
  graphic.push({type:'rect',silent:true,z:0,shape:{x:s.left-2.5,y:347.6,width:s.width+5,height:299},style:{fill:'none',stroke:'#aaa',lineWidth:1.5}});
  graphic.push({type:'rect',silent:true,z:0,shape:{x:s.left+2.5,y:352.4,width:s.width-5,height:289.4},style:{fill:'none',stroke:'#999',lineWidth:1.5}});
  const mk=(pos,ext,ticks,margin,rotate)=>({gridIndex:g,type:'value',position:pos,min:ext[0],max:ext[1],
    axisLine:{show:false},axisTick:{show:false},splitLine:{show:false},
    axisLabel:{fontSize:16,fontFamily:font,color:ink,margin,rotate:rotate||0,customValues:ticks,hideOverlap:false,showMinLabel:true,showMaxLabel:true}});
  const xb=xAxis.length; xAxis.push(mk('bottom',s.bot,s.botTicks,5),mk('top',s.topX,s.topTicks,2));
  const yl=yAxis.length;
  yAxis.push(mk('left',s.lat,s.latTicks,2,90),mk('right',s.lat,s.latTicks,3,-90));
  const xt=xb+1,[x0,x1]=s.bot,[y0,y1]=s.lat;
  const grat={type:[1.5,4.5],color:'#8f8f8f',width:1};
  const base={type:'line',showSymbol:false,silent:true,animation:false};
  s.topTicks.forEach(t=>{
    const bx=x0+(t-s.topX[0])/(s.topX[1]-s.topX[0])*(x1-x0);
    series.push({...base,xAxisIndex:xb,yAxisIndex:yl,z:1,lineStyle:grat,data:[[t,y0],[bx,y1]]});
  });
  s.latTicks.forEach(v=>{
    series.push({...base,xAxisIndex:xb,yAxisIndex:yl,z:1,lineStyle:grat,data:[[x0,v],[x1,v]]});
  });
  series.push({type:'scatter',xAxisIndex:xb,yAxisIndex:yl,z:2,silent:true,animation:false,symbol:'rect',symbolSize:s.cell,
    data:s.lon.map((x,i)=>[x,s.latV[i],s.temp[i]]),
    itemStyle:{opacity:1,color:p=>colorOf(p.data[2])}});
  (s.lines||[]).forEach(l=>series.push({...base,xAxisIndex:xb,yAxisIndex:yl,z:3,lineStyle:{color:'#111',width:1.8},data:l}));
  series.push({type:'scatter',xAxisIndex:xb,yAxisIndex:yl,z:4,silent:true,animation:false,symbol:crossPath,symbolSize:8,
    data:s.lon.map((x,i)=>[x,s.latV[i]]),itemStyle:{color:'#0a0a0a',opacity:1}});
  const band={color:'#000',width:4.6,cap:'butt'};
  const seg=(arr,f)=>arr.flatMap(([a,b])=>[f(a),f(b),[null,null]]);
  const add=(xi,yi,data)=>series.push({...base,xAxisIndex:xi,yAxisIndex:yi,z:5,clip:false,connectNulls:false,lineStyle:band,data});
  add(xb,yl,seg(s.botBlack,a=>[a,y0]));
  add(xt,yl,seg(s.topBlack,a=>[a,y1]));
  add(xb,yl,seg(s.latBlack,a=>[x0,a]));
  add(xb,yl,seg(s.latBlack,a=>[x1,a]));
}
mapPanel({left:29.2,width:326,cell:31,bot:[-121.145,-115.57],topX:[-121.284,-115.428],lat:[30.635,34.955],
  botTicks:[-121,-120,-119,-118,-117,-116],topTicks:[-121,-120,-119,-118,-117,-116],latTicks:[31,32,33,34],
  botBlack:[[-121,-120],[-119,-118],[-117,-116]],topBlack:[[-121,-120],[-119,-118],[-117,-116]],latBlack:[[31,32],[33,34]],
  lon:dLon,latV:dLat,temp:dTemp,lines:dCoasts});
mapPanel({left:468.5,width:325.7,cell:31.6,bot:[-109.203,-103.097],topX:[-109.395,-102.916],lat:[38.143,42.476],
  botTicks:[-109,-108,-107,-106,-105,-104],topTicks:[-109,-108,-107,-106,-105,-104,-103],latTicks:[39,40,41,42],
  botBlack:[[-109,-108],[-107,-106],[-105,-104]],topBlack:[[-109,-108],[-107,-106],[-105,-104],[-103.02,-102.98]],latBlack:[[39,40],[41,42]],
  lon:eLon,latV:eLat,temp:eTemp,lines:eBorders});
mapPanel({left:907.7,width:325.8,cell:31,bot:[-131.902,-122.90],topX:[-132.513,-122.277],lat:[57.733,62.049],
  botTicks:[-131,-130,-129,-128,-127,-126,-125,-124,-123],topTicks:[-132,-131,-130,-129,-128,-127,-126,-125,-124,-123],latTicks:[58,59,60,61,62],
  botBlack:[[-131,-130],[-129,-128],[-127,-126],[-125,-124]],topBlack:[[-132,-131],[-130,-129],[-128,-127],[-126,-125],[-124,-123]],latBlack:[[58,59],[60,61]],
  lon:fLon,latV:fLat,temp:fTemp});

[387.5,826.7,1266].forEach(left=>{
  const g=grid.length;
  grid.push({left,top:344,width:11.5,height:288,show:false,outerBoundsMode:'none'});
  const xi=xAxis.length; xAxis.push({gridIndex:g,type:'value',min:0,max:1,show:false});
  const yi=yAxis.length; yAxis.push({gridIndex:g,type:'value',position:'right',min:255,max:300,interval:3,
    axisLine:{show:false},axisTick:{show:false},splitLine:{show:false},
    axisLabel:{fontSize:17,fontFamily:font,color:ink,margin:2,verticalAlign:'bottom',lineHeight:9,formatter:v=>v+'.'}});
  series.push({type:'custom',xAxisIndex:xi,yAxisIndex:yi,silent:true,animation:false,z:2,clip:false,
    data:cbLevels.map((v,i)=>[v,v+3,i]),
    encode:{y:[0,1]},
    renderItem:(p,api)=>{
      const a=api.coord([0,api.value(0)]),b=api.coord([1,api.value(1)]);
      return {type:'rect',shape:{x:a[0],y:b[1],width:b[0]-a[0],height:a[1]-b[1]},
        style:{fill:cbColors[api.value(2)],stroke:'rgba(70,70,90,0.45)',lineWidth:1}};
    }});
});

const title=[];
[[13,12],[445,12],[886,12],[12,295],[444,295],[883,295],[12,702],[444,702],[884,702]].forEach(([left,top],i)=>{
  title.push({text:panelLetters[i],left,top,padding:0,textStyle:{fontFamily:'"Liberation Serif",serif',fontWeight:'bold',fontSize:24,color:'#111'}});
});
[383,823,1262].forEach(left=>{
  title.push({text:cbLabel,left,top:648,padding:0,textStyle:{fontFamily:font,fontWeight:'normal',fontSize:17,color:ink}});
});

const chart=echarts.init(document.getElementById('c'),null,{renderer:'canvas'});
chart.setOption({animation:false,backgroundColor:'#fff',title,grid,xAxis,yAxis,series,graphic:{elements:graphic},tooltip:{show:false},legend:{show:false}});
</script></body></html>
